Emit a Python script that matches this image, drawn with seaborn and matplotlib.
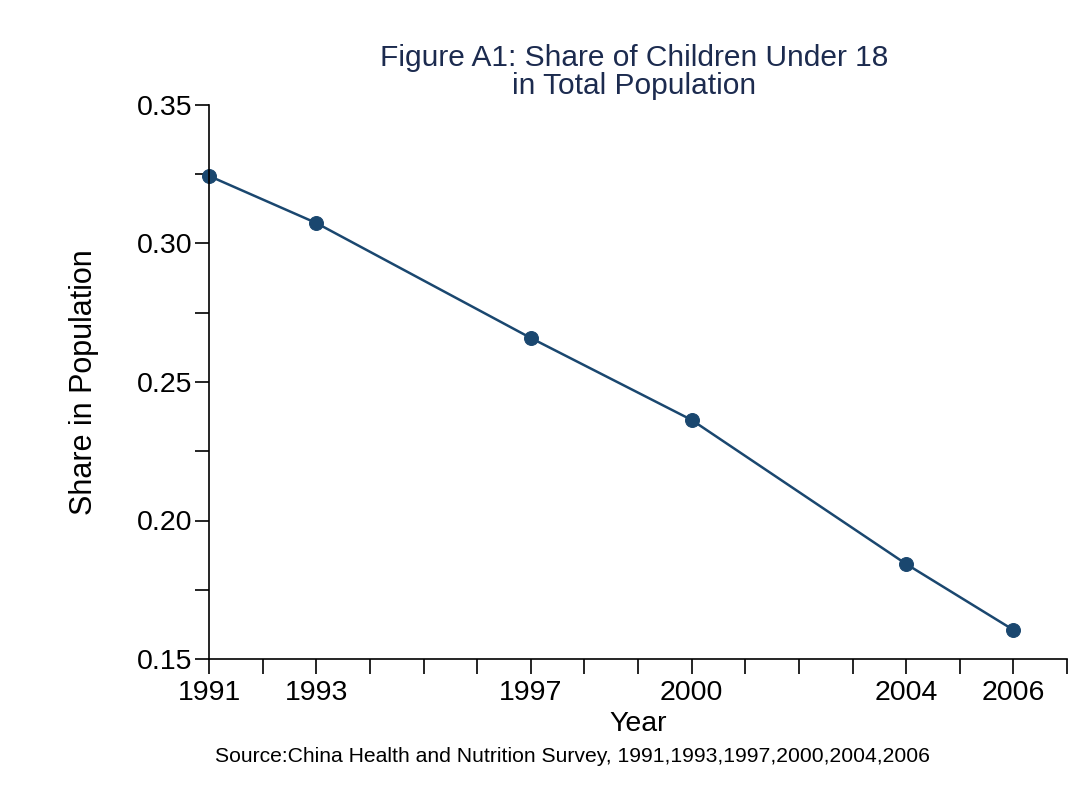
import matplotlib
matplotlib.use("Agg")
import matplotlib.pyplot as plt
import seaborn as sns
import pandas as pd
from matplotlib.ticker import FixedLocator, MultipleLocator, FormatStrFormatter

years = [1991, 1993, 1997, 2000, 2004, 2006]
share = [0.3244, 0.3074, 0.2659, 0.2363, 0.1843, 0.1605]
x_major = [1991, 1993, 1997, 2000, 2004, 2006]
x_minor = [1992, 1994, 1995, 1996, 1998, 1999, 2001, 2002, 2003, 2005, 2007]

sns.set_theme(style="ticks")
plt.rcParams['font.family'] = ['Liberation Sans', 'DejaVu Sans']

df = pd.DataFrame({"Year": years, "Share": share})

fig = plt.figure(figsize=(10.88, 7.94), dpi=100)
ax = fig.add_axes([209/1088, 1-659/794, (1067-209)/1088, (659-105)/794])

line_color = "#1a476f"
sns.lineplot(data=df, x="Year", y="Share", ax=ax, color=line_color, linewidth=1.8,
             marker="o", markersize=10, markeredgecolor=line_color, clip_on=False)
for l in ax.lines:
    l.set_clip_on(False)

ax.set_xlim(1991, 2007)
ax.set_ylim(0.15, 0.35)
ax.xaxis.set_major_locator(FixedLocator(x_major))
ax.xaxis.set_minor_locator(FixedLocator(x_minor))
ax.yaxis.set_major_locator(MultipleLocator(0.05))
ax.yaxis.set_minor_locator(MultipleLocator(0.025))
ax.yaxis.set_major_formatter(FormatStrFormatter('%.2f'))

for s in ["top", "right"]:
    ax.spines[s].set_visible(False)
for s in ["left", "bottom"]:
    ax.spines[s].set_linewidth(1.2)
    ax.spines[s].set_color("black")

ax.tick_params(axis="both", which="both", direction="out", width=1.2, color="black",
               labelsize=20.5, labelcolor="black")
ax.tick_params(axis="x", which="both", length=11, pad=4)
ax.tick_params(axis="y", which="both", length=10, pad=2)

ax.set_xlabel("Year", fontsize=20.5, color="black", labelpad=4)
ax.set_ylabel("Share in Population", fontsize=22, color="black", labelpad=27)

fig.text(634/1088, 1-72/794, "Figure A1: Share of Children Under 18\nin Total Population",
         ha="center", va="center", fontsize=21.5, color="#1c2b4f", linespacing=0.98)
fig.text(215/1088, 1-757/794,
         "Source:China Health and Nutrition Survey, 1991,1993,1997,2000,2004,2006",
         ha="left", va="center", fontsize=15.2, color="black")

fig.savefig("out.png", dpi=100, facecolor="white")
